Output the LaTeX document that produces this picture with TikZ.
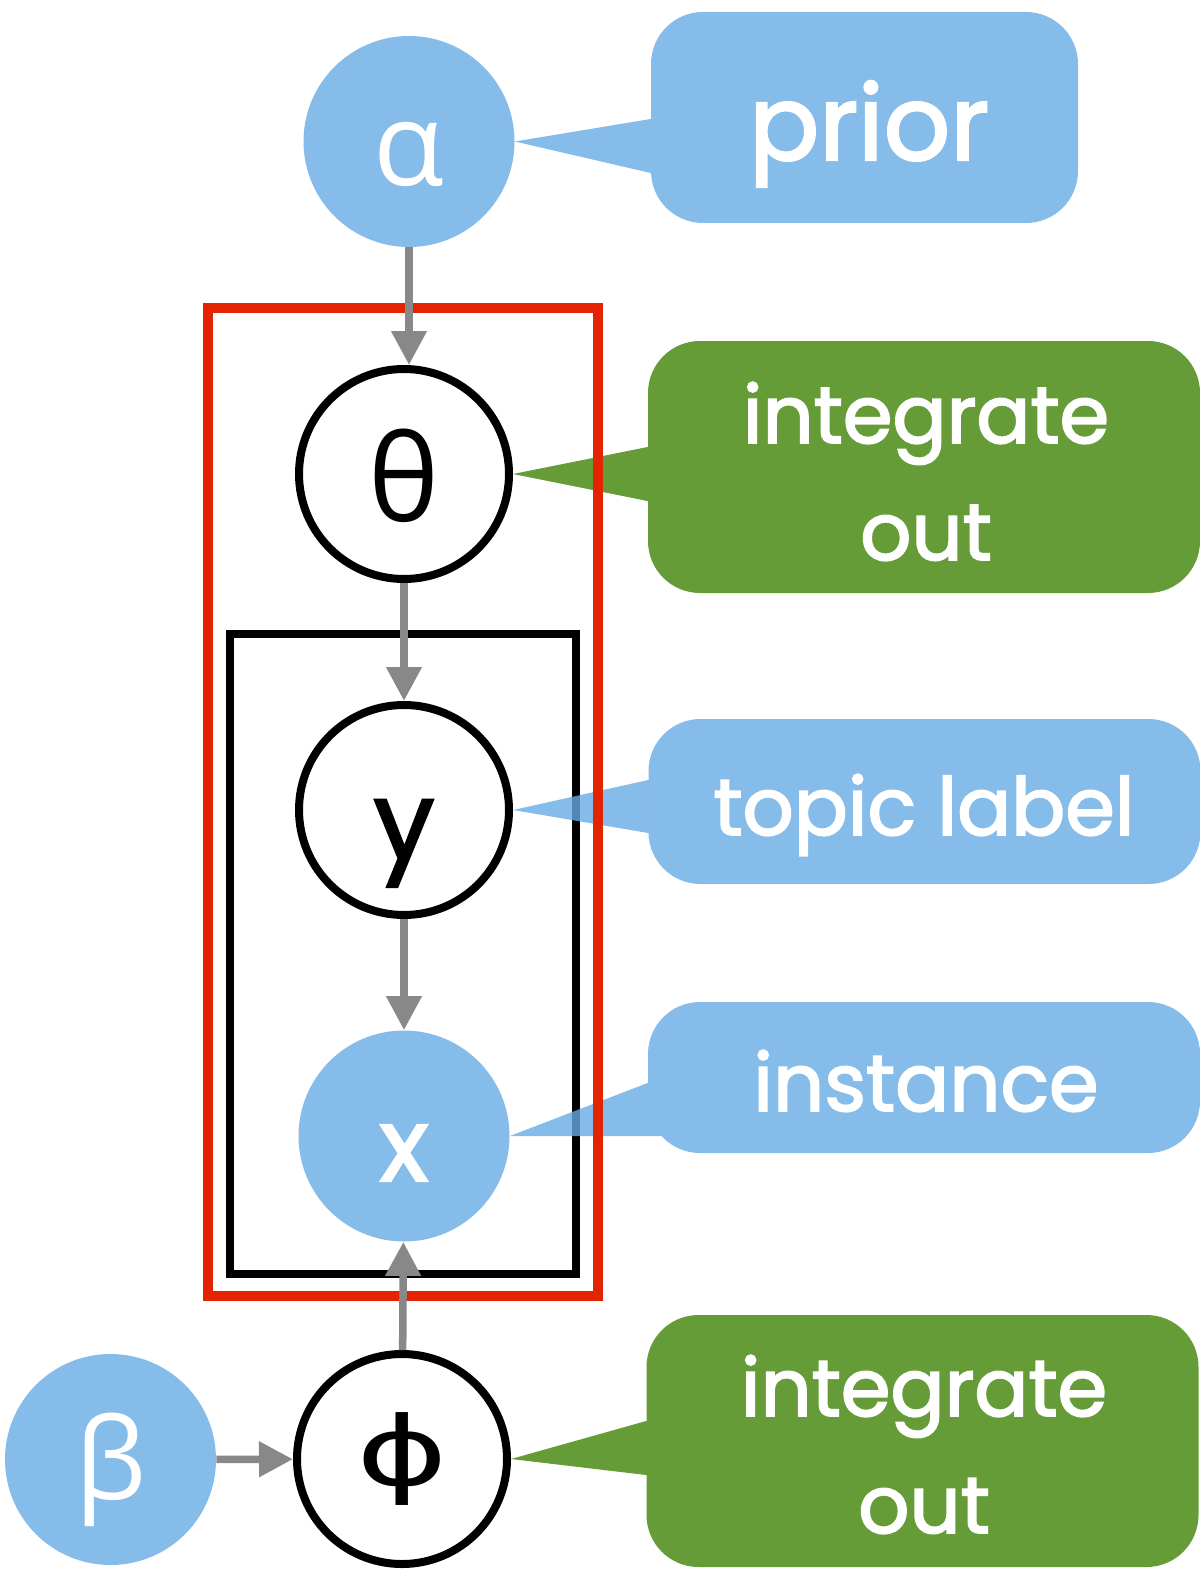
\documentclass[tikz,border=0pt]{standalone}
\usepackage{fontspec}
\setmainfont{Poppins}
\newfontfamily\labelfont{Poppins}[FakeBold=2.2]
\newfontfamily\greekfont{Open Sans}
\newfontfamily\phifont{DejaVu Sans}
\usetikzlibrary{arrows.meta,calc,backgrounds}
\definecolor{nodeblue}{RGB}{134,188,233}
\definecolor{tipblue}{RGB}{104,171,228}
\definecolor{boxgreen}{RGB}{102,156,56}
\definecolor{tipgreen}{RGB}{64,131,6}
\definecolor{platered}{RGB}{226,36,0}
\definecolor{edgegray}{RGB}{136,136,136}

\tikzset{every picture/.style={line width=0.75pt}}

\begin{document}
\begin{tikzpicture}[x=1pt,y=1pt,yscale=-1,xscale=1,
  obsnode/.style={circle, fill=nodeblue, minimum size=211pt, inner sep=0pt, text=white},
  latnode/.style={circle, draw=black, fill=white, line width=8pt, minimum size=210pt, inner sep=0pt},
  edge/.style={draw=edgegray, line width=7.5pt, -{Triangle[length=34pt,width=34pt]}},
  callbox/.style={rectangle, rounded corners=52pt, inner sep=0pt, minimum width=552pt},
  calltip/.style={fill opacity=0.8},
  calltext/.style={text=white, anchor=base, align=center, inner sep=0pt, font=\labelfont\fontsize{80}{117}\selectfont}]
  \useasboundingbox (0,0) rectangle (1199,1570);

  %Circles
  \node[obsnode, text height=89pt, text depth=0pt, font=\greekfont\fontsize{116}{116}\selectfont] (alpha) at (409,141.5) {α};
  \node[latnode, text height=94pt, text depth=0pt, font=\greekfont\fontsize{120}{120}\selectfont] (theta) at (404,474) {θ};
  \node[latnode, text height=98pt, text depth=0pt, font=\labelfont\fontsize{108}{108}\selectfont] (topic) at (404,810) {y};
  \node[obsnode, text height=90pt, text depth=0pt, font=\labelfont\fontsize{102}{102}\selectfont] (xinst) at (404,1136) {x};
  \node[latnode, font=\phifont\fontsize{96}{96}\selectfont] (phi) at (402,1459) {\scalebox{1.45}[1]{ϕ}};
  \node[obsnode, text height=79pt, text depth=0pt, font=\greekfont\fontsize{113}{113}\selectfont] (beta) at (110.5,1459.5) {β};

  %Callout boxes
  \node[callbox, fill=nodeblue, minimum width=427pt, minimum height=211pt] (priorbox) at (864.5,117.5) {};
  \node[callbox, fill=boxgreen, minimum height=252pt] (intbox) at (924,467) {};
  \node[callbox, fill=nodeblue, minimum height=165pt] (topicbox) at (924.5,801.5) {};
  \node[callbox, fill=nodeblue, minimum height=151pt] (instbox) at (924,1077.5) {};
  \node[callbox, fill=boxgreen, minimum height=252pt] (intboxb) at (922.5,1441) {};

  %Callout pointers
  \begin{pgfonlayer}{background}
  \draw[line width=8pt] (230,634) rectangle (576,1274);
  \fill[tipblue, calltip] (alpha.east) -- ($(priorbox.west)+(0,1.5)$) -- ($(priorbox.west)+(20,1.5)$) -- ($(priorbox.west)+(20,55.5)$) -- ($(priorbox.west)+(0,55.5)$) -- cycle;
  \fill[tipgreen, calltip] (theta.east) -- ($(intbox.west)+(0,-20)$) -- ($(intbox.west)+(20,-20)$) -- ($(intbox.west)+(20,34)$) -- ($(intbox.west)+(0,34)$) -- cycle;
  \fill[tipblue, calltip] (topic.east) -- ($(topicbox.west)+(0,-21.5)$) -- ($(topicbox.west)+(20,-21.5)$) -- ($(topicbox.west)+(20,31.5)$) -- ($(topicbox.west)+(0,31.5)$) -- cycle;
  \fill[tipblue, calltip] (xinst.east) -- ($(instbox.west)+(0,5.5)$) -- ($(instbox.west)+(32,5.5)$) -- ($(instbox.west)+(32,58.5)$) -- ($(instbox.west)+(13,58.5)$) -- cycle;
  \fill[tipgreen, calltip] (phi.east) -- ($(intboxb.west)+(0,-20)$) -- ($(intboxb.west)+(20,-20)$) -- ($(intboxb.west)+(20,34)$) -- ($(intboxb.west)+(0,34)$) -- cycle;
  \end{pgfonlayer}

  %Plate
  \draw[platered, line width=10pt] (208,308) rectangle (598,1296);

  %Edges
  \draw[edge] (alpha.south) -- (alpha.south |- theta.north);
  \draw[edge] (theta) -- (topic);
  \draw[edge] (topic) -- (xinst);
  \draw[edge] (phi) -- (xinst);
  \draw[edge] (beta) -- (phi);

  %Callout texts
  \node[calltext, font=\labelfont\fontsize{104}{120}\selectfont] (priortext) at (869,160) {prior};
  \node[calltext] (inttext) at (926,560) {integrate\\out};
  \node[calltext] (topictext) at (924,835) {topic label};
  \node[calltext] (insttext) at (926,1111) {instance};
  \node[calltext] (inttextb) at (924,1533) {integrate\\out};
\end{tikzpicture}
\end{document}
